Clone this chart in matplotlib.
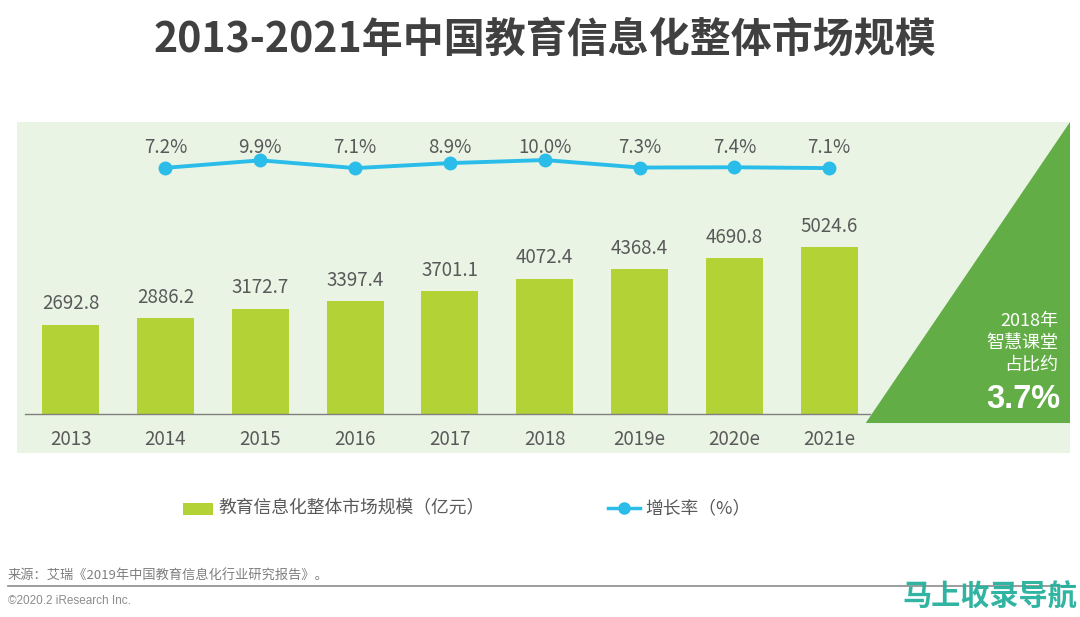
import matplotlib
matplotlib.use("Agg")
import matplotlib.pyplot as plt
from matplotlib.patches import Polygon, Rectangle
from matplotlib.lines import Line2D
import matplotlib.transforms as mtrans

plt.rcParams['font.family'] = ['Noto Sans CJK SC', 'DejaVu Sans']

years = ['2013', '2014', '2015', '2016', '2017', '2018', '2019e', '2020e', '2021e']
market_size = [2692.8, 2886.2, 3172.7, 3397.4, 3701.1, 4072.4, 4368.4, 4690.8, 5024.6]
growth_years = ['2014', '2015', '2016', '2017', '2018', '2019e', '2020e', '2021e']
growth_rate = [7.2, 9.9, 7.1, 8.9, 10.0, 7.3, 7.4, 7.1]

title = '2013-2021年中国教育信息化整体市场规模'
bar_label = '教育信息化整体市场规模（亿元）'
line_label = '增长率（%）'
source = '来源：艾瑞《2019年中国教育信息化行业研究报告》。'
copyright_txt = '©2020.2 iResearch Inc.'

W, H = 1080, 617
fig = plt.figure(figsize=(W / 100, H / 100), dpi=100)
fig.patch.set_facecolor('white')

def fx(px):
    return px / W

def fy(py):
    return 1 - py / H

TEXT = '#595959'
BAR = '#b2d235'
LINE = '#2bbde9'
PANEL = '#e9f4e4'
TRI = '#62ad46'

# panel axes
left, right, top, bottom = 17, 1070, 122, 453
ax = fig.add_axes([fx(left), fy(bottom), fx(right - left), (bottom - top) / H])
ax.set_facecolor(PANEL)
for s in ax.spines.values():
    s.set_visible(False)
ax.set_xticks([])
ax.set_yticks([])

x = list(range(len(years)))
ax.set_xlim(-0.566, 10.54)
ax.set_ylim(-1174, 8789)

# triangle
tri = Polygon([[0.806, 0.0906], [1.0, 1.0], [1.0, 0.0906]], closed=True,
              transform=ax.transAxes, facecolor=TRI, edgecolor='none', zorder=1)
ax.add_patch(tri)

bars = ax.bar(x, market_size, width=0.60, color=BAR, zorder=2)
ax.axhline(0, xmin=0.0076, xmax=0.81, color='#808080', lw=1.0, zorder=3)

for xi, v in zip(x, market_size):
    ax.annotate(f'{v:.1f}', (xi, v), xytext=(0, 15), textcoords='offset points',
                ha='center', va='center', fontsize=13.5, color=TEXT, zorder=4)

blend = mtrans.blended_transform_factory(ax.transData, ax.transAxes)
for xi, yl in zip(x, years):
    ax.text(xi, 0.040, yl, transform=blend, ha='center', va='center',
            fontsize=13.5, color=TEXT)

# growth line
ax2 = ax.twinx()
for s in ax2.spines.values():
    s.set_visible(False)
ax2.set_yticks([])
ax2.set_ylim(-95.5, 23.7)
gx = [years.index(g) for g in growth_years]
ax2.plot(gx, growth_rate, color=LINE, lw=2.8, marker='o', markersize=9,
         markerfacecolor=LINE, markeredgecolor=LINE, zorder=5)
blend2 = mtrans.blended_transform_factory(ax2.transData, ax2.transAxes)
for xi, r in zip(gx, growth_rate):
    ax2.text(xi, 0.922, f'{r:.1f}%', transform=blend2, ha='center', va='center',
             fontsize=13.5, color=TEXT)

# triangle text
fig.text(fx(1058), fy(321), '2018年', ha='right', va='center', fontsize=13, color='white')
fig.text(fx(1058), fy(343), '智慧课堂', ha='right', va='center', fontsize=13, color='white')
fig.text(fx(1058), fy(365), '占比约', ha='right', va='center', fontsize=13, color='white')
fig.text(fx(1060), fy(399), '3.7%', ha='right', va='center', fontsize=23.5, color='white',
         fontweight='bold', family=['Liberation Sans', 'DejaVu Sans'])

# title
fig.text(fx(545), fy(40), title, ha='center', va='center', fontsize=29.5,
         fontweight='bold', color='#404040')

# legend
fig.patches.append(Rectangle((fx(183), fy(515)), fx(30), 12 / H, transform=fig.transFigure,
                             facecolor=BAR, edgecolor='none'))
fig.text(fx(218), fy(508), bar_label, ha='left', va='center', fontsize=12.8, color=TEXT)
fig.lines.append(Line2D([fx(608), fx(640)], [fy(508), fy(508)], transform=fig.transFigure,
                        color=LINE, lw=2.5, marker=None))
fig.lines.append(Line2D([fx(624)], [fy(508)], transform=fig.transFigure,
                        color=LINE, marker='o', markersize=8, lw=0))
fig.text(fx(645), fy(508), line_label, ha='left', va='center', fontsize=12.8, color=TEXT)

# footer
fig.text(fx(8), fy(576), source, ha='left', va='center', fontsize=9.5, color='#7f7f7f')
fig.lines.append(Line2D([fx(8), fx(1075)], [fy(586), fy(586)], transform=fig.transFigure,
                        color='#8c8c8c', lw=1.2))
fig.text(fx(8), fy(601), copyright_txt, ha='left', va='center', fontsize=8.5,
         color='#8c8c8c', family=['Liberation Sans', 'DejaVu Sans'])
fig.text(fx(1077), fy(597), '马上收录导航', ha='right', va='center', fontsize=21,
         fontweight='bold', color='#26b09c', alpha=0.95)

fig.savefig('out.png', dpi=100, facecolor='white')
